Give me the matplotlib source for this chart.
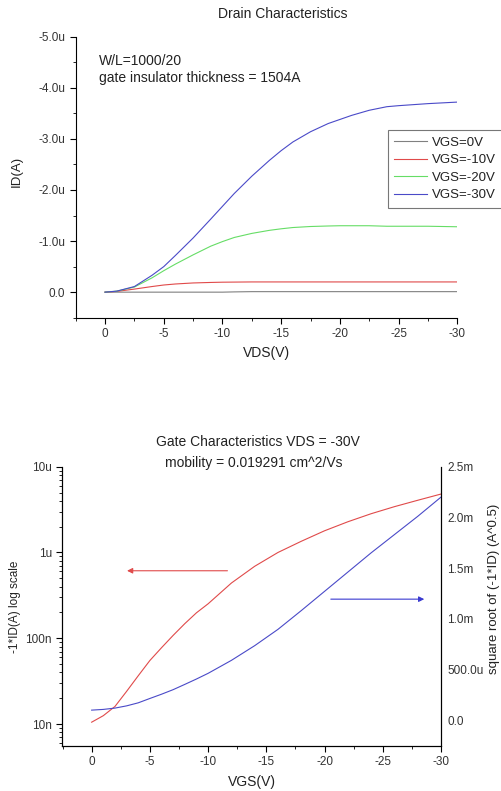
import math
import matplotlib
matplotlib.use("Agg")
import matplotlib.pyplot as plt
from matplotlib.ticker import FixedLocator, MultipleLocator, FuncFormatter, LogLocator, NullFormatter

plt.rcParams["font.family"] = ["Liberation Sans", "DejaVu Sans"]

# drain characteristics: ID (uA, negative) vs VDS
vds = [0, -1, -2.5, -4, -5, -6, -7.5, -9, -10, -11, -12.5, -14, -15, -16, -17.5,
       -19, -20, -21, -22.5, -24, -25, -27.5, -30]
id_vgs0 = [0, 0, 0, 0, 0, 0, 0, 0, 0, -0.005, -0.01, -0.01, -0.01, -0.01, -0.01,
           -0.01, -0.01, -0.01, -0.01, -0.01, -0.01, -0.01, -0.01]
id_vgs10 = [0, -0.015, -0.06, -0.11, -0.14, -0.16, -0.18, -0.19, -0.195, -0.197, -0.2, -0.2,
            -0.2, -0.2, -0.2, -0.2, -0.2, -0.2, -0.2, -0.2, -0.2, -0.2, -0.2]
id_vgs20 = [0, -0.02, -0.1, -0.28, -0.42, -0.55, -0.73, -0.9, -0.99, -1.07, -1.15, -1.21,
            -1.24, -1.265, -1.285, -1.295, -1.30, -1.30, -1.30, -1.29, -1.29, -1.29, -1.28]
id_vgs30 = [0, -0.02, -0.11, -0.33, -0.50, -0.72, -1.06, -1.43, -1.68, -1.93, -2.27, -2.58,
            -2.77, -2.94, -3.14, -3.30, -3.38, -3.46, -3.56, -3.63, -3.65, -3.69, -3.72]
drain_labels = ["VGS=0V", "VGS=-10V", "VGS=-20V", "VGS=-30V"]
drain_colors = ["#808080", "#e04a4a", "#66dd66", "#4a4ac8"]

# gate characteristics at VDS = -30V
vgs = [0, -1, -2, -3, -4, -5, -6, -7, -8, -9, -10, -12, -14, -16, -18, -20,
       -22, -24, -26, -28, -30]
id_log = [10.5e-9, 12.5e-9, 16e-9, 24e-9, 36.5e-9, 55e-9, 77.5e-9, 108e-9, 148e-9, 198e-9,
          252e-9, 440e-9, 690e-9, 1.0e-6, 1.35e-6, 1.79e-6, 2.28e-6, 2.83e-6, 3.42e-6,
          4.06e-6, 4.8e-6]
sqrt_id = [0.098e-3, 0.105e-3, 0.118e-3, 0.14e-3, 0.17e-3, 0.213e-3, 0.255e-3, 0.30e-3,
           0.352e-3, 0.405e-3, 0.461e-3, 0.589e-3, 0.734e-3, 0.895e-3, 1.08e-3, 1.27e-3,
           1.46e-3, 1.65e-3, 1.83e-3, 2.01e-3, 2.2e-3]

W, H = 501, 791
fig = plt.figure(figsize=(W / 100, H / 100), dpi=100)

def px_axes(l, t, r, b):
    return fig.add_axes([l / W, 1 - b / H, (r - l) / W, (b - t) / H])

def px_text(x, y, s, **kw):
    kw.setdefault("ha", "center")
    kw.setdefault("va", "center")
    kw.setdefault("color", "#222222")
    return fig.text(x / W, 1 - y / H, s, **kw)

tick_col = "#333333"
TICK_FS = 8.5

# ---- top panel
ax = px_axes(75.7, 36.7, 457.3, 317.7)
for y, lab, c in zip([id_vgs0, id_vgs10, id_vgs20, id_vgs30], drain_labels, drain_colors):
    ax.plot(vds, y, color=c, lw=0.8, label=lab)
ax.set_xlim(2.5, -30)
ax.set_ylim(0.5, -5.0)
ax.spines[["top", "right"]].set_visible(False)
ax.xaxis.set_major_locator(MultipleLocator(5))
ax.xaxis.set_minor_locator(MultipleLocator(2.5))
ax.yaxis.set_major_locator(FixedLocator([0, -1, -2, -3, -4, -5]))
ax.yaxis.set_minor_locator(MultipleLocator(0.5))
ax.xaxis.set_major_formatter(FuncFormatter(lambda v, p: "%d" % v))
ax.yaxis.set_major_formatter(FuncFormatter(lambda v, p: "0.0" if v == 0 else "%.1fu" % v))
ax.tick_params(which="both", labelsize=TICK_FS, labelcolor=tick_col, length=4)
ax.tick_params(which="minor", length=2.5)
px_text(283, 14.3, "Drain Characteristics", fontsize=10)
px_text(266.7, 352.7, "VDS(V)", fontsize=10)
px_text(16.7, 171.7, "ID(A)", fontsize=9.5, rotation=90)
px_text(99, 61, "W/L=1000/20", fontsize=10, ha="left")
px_text(99, 78, "gate insulator thickness = 1504A", fontsize=10, ha="left")
leg = ax.legend(loc="upper left", bbox_to_anchor=((387.7 - 75.7) / 381.6, (317.7 - 130) / 281),
                fontsize=9.5, frameon=True, fancybox=False, handlelength=2.5, handletextpad=0.35,
                borderpad=0.5, labelspacing=0.4, borderaxespad=0)
leg.get_frame().set_edgecolor("#555555")
leg.get_frame().set_linewidth(0.8)
for t in leg.get_texts():
    t.set_color("#222222")

# ---- bottom panel
ax2 = px_axes(62.3, 466.7, 441, 746)
ax2.plot(vgs, id_log, color="#e04a4a", lw=0.8)
ax2.set_yscale("log")
ax2.set_xlim(2.52, -30)
ax2.set_ylim(5.54e-9, 10e-6)
ax2.spines["top"].set_visible(False)
ax2.xaxis.set_major_locator(MultipleLocator(5))
ax2.xaxis.set_minor_locator(MultipleLocator(2.5))
ax2.xaxis.set_major_formatter(FuncFormatter(lambda v, p: "%d" % v))
ax2.yaxis.set_major_locator(FixedLocator([1e-8, 1e-7, 1e-6, 1e-5]))
ax2.yaxis.set_minor_locator(LogLocator(base=10, subs=range(2, 10)))
ax2.yaxis.set_minor_formatter(NullFormatter())
ax2.yaxis.set_major_formatter(FuncFormatter(
    lambda v, p: {-8: "10n", -7: "100n", -6: "1u", -5: "10u"}.get(round(math.log10(v)), "")))
ax2.tick_params(which="both", labelsize=TICK_FS, labelcolor=tick_col, length=4)
ax2.tick_params(which="minor", length=2.5)
px_text(257.7, 441.7, "Gate Characteristics VDS = -30V", fontsize=10)
px_text(253.3, 462.7, "mobility = 0.019291 cm^2/Vs", fontsize=10)
px_text(252.3, 781.7, "VGS(V)", fontsize=10)
px_text(15, 606.7, "-1*ID(A) log scale", fontsize=8.5, rotation=90)
ax2.annotate("", xy=(-2.8, 612e-9), xytext=(-11.9, 612e-9),
             arrowprops=dict(arrowstyle="-|>", color="#e04a4a", lw=0.8, mutation_scale=8))

ax3 = ax2.twinx()
ax3.plot(vgs, sqrt_id, color="#4a4ac8", lw=0.8)
ax3.set_ylim(-0.256e-3, 2.5e-3)
ax3.spines["top"].set_visible(False)
ax3.yaxis.set_major_locator(FixedLocator([0, 0.5e-3, 1e-3, 1.5e-3, 2e-3, 2.5e-3]))
ax3.yaxis.set_major_formatter(FuncFormatter(
    lambda v, p: "0.0" if abs(v) < 1e-9 else ("500.0u" if abs(v - 0.5e-3) < 1e-9 else "%.1fm" % (v * 1e3))))
ax3.tick_params(labelsize=TICK_FS, labelcolor=tick_col, length=0, pad=4.5)
px_text(494.5, 589, "square root of (-1*ID) (A^0.5)", fontsize=9.5, rotation=90)
ax3.annotate("", xy=(-28.8, 1.193e-3), xytext=(-20.3, 1.193e-3),
             arrowprops=dict(arrowstyle="-|>", color="#3a3ad0", lw=0.8, mutation_scale=8))

fig.savefig("out.png", dpi=100)
